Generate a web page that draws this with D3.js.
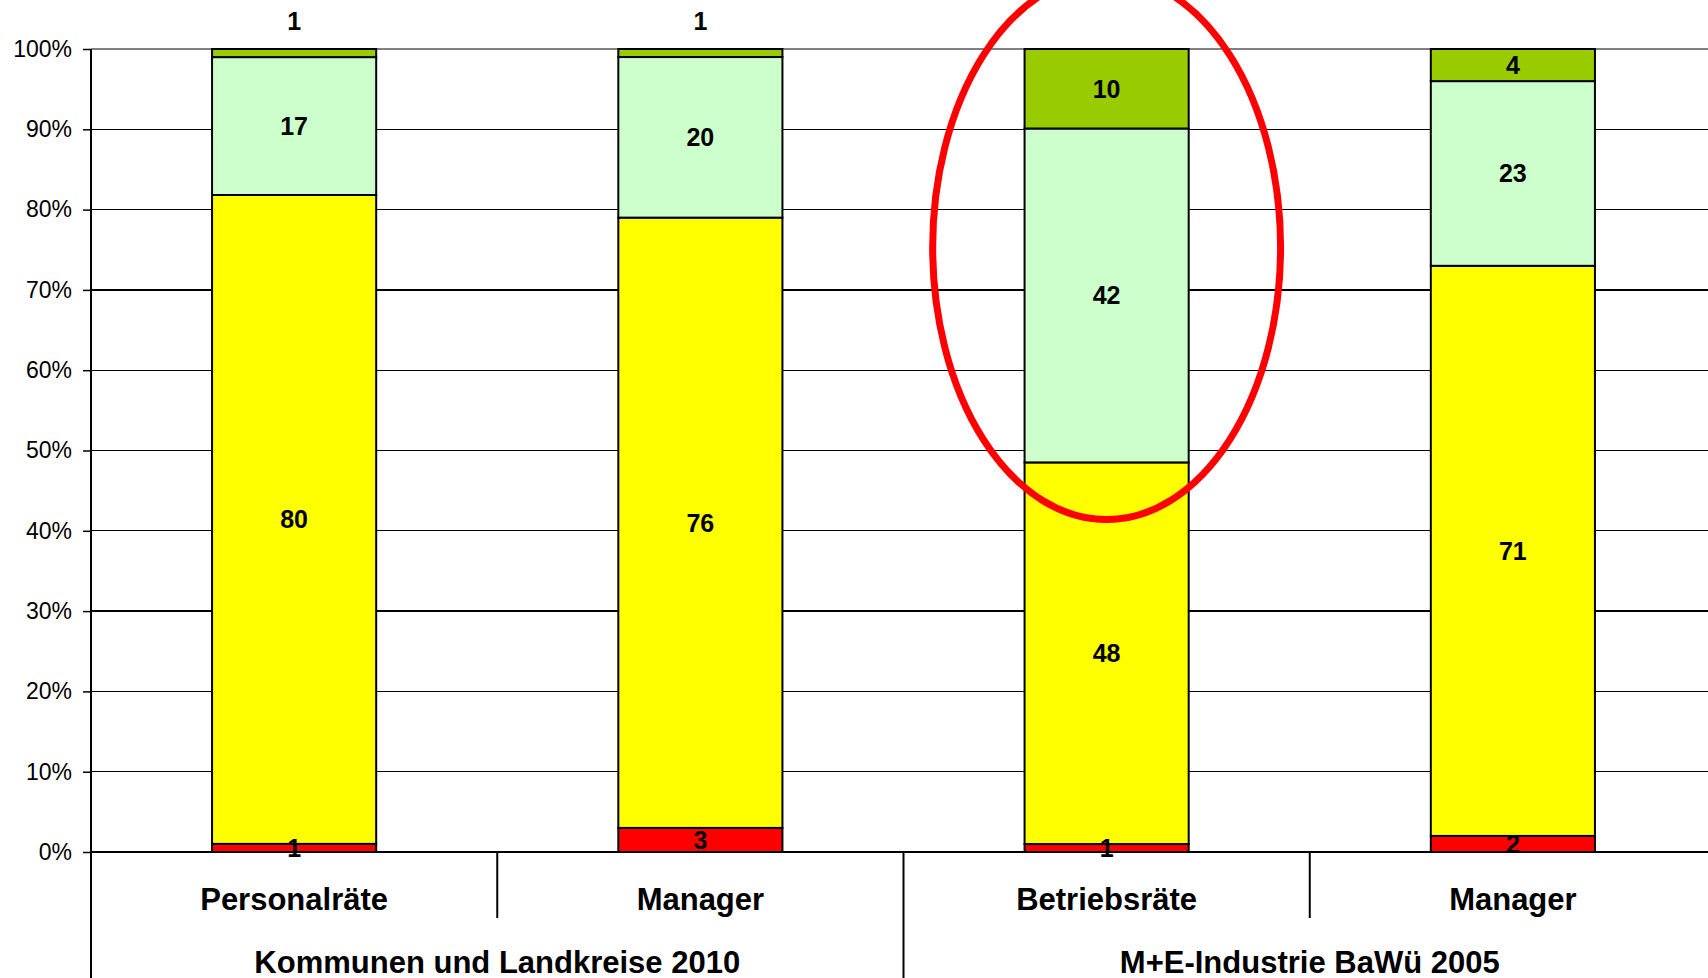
<!DOCTYPE html>
<html>
<head>
<meta charset="utf-8">
<script src="https://cdn.jsdelivr.net/npm/d3@7"></script>
<style>
  html, body { margin: 0; padding: 0; background: #fff; }
  svg { display: block; font-family: "Liberation Sans", Arial, sans-serif; }
</style>
</head>
<body>
<svg id="chart" width="1708" height="978"></svg>
<script>
// Categories and their groups
const categories = ["Personalräte", "Manager (Kommunen)", "Betriebsräte", "Manager (M+E)"];
const categoryLabels = ["Personalräte", "Manager", "Betriebsräte", "Manager"];
const groups = ["Kommunen und Landkreise 2010", "M+E-Industrie BaWü 2005"];
const groupOf = [0, 0, 1, 1];

// Series values (percent, as labelled), bottom to top
const seriesKeys = ["s1", "s2", "s3", "s4"];
const s1 = [1, 3, 1, 2];
const s2 = [80, 76, 48, 71];
const s3 = [17, 20, 42, 23];
const s4 = [1, 1, 10, 4];
const seriesColors = ["#FF0000", "#FFFF00", "#CCFFCC", "#99CC00"];

const yTicks = [0, 0.1, 0.2, 0.3, 0.4, 0.5, 0.6, 0.7, 0.8, 0.9, 1];

// Highlighted category (ellipse)
const highlight = "Betriebsräte";

const rows = categories.map((c, i) => ({ cat: c, s1: s1[i], s2: s2[i], s3: s3[i], s4: s4[i] }));
const stacked = d3.stack().keys(seriesKeys).offset(d3.stackOffsetExpand)(rows);

const svg = d3.select("#chart");
const plotLeft = 91, plotTop = 49, plotBottom = 852, plotRight = 1716;

const x = d3.scaleBand().domain(categories).range([plotLeft, plotRight])
  .paddingInner(0.596).paddingOuter(0.298);
const step = x.step();
const y = d3.scaleLinear().domain([0, 1]).range([plotBottom, plotTop]);

// Gridlines
svg.append("g").selectAll("line").data(yTicks).join("line")
  .attr("x1", plotLeft).attr("x2", plotRight)
  .attr("y1", d => y(d)).attr("y2", d => y(d))
  .attr("stroke", d => d === 1 ? "#808080" : "#000")
  .attr("stroke-width", d => d === 0 ? 2 : 1.3)
  .attr("shape-rendering", "crispEdges");

// Y axis
const yAxis = d3.axisLeft(y).tickValues(yTicks).tickFormat(d3.format(".0%")).tickSize(8).tickPadding(11);
const yg = svg.append("g").attr("transform", `translate(${plotLeft},0)`).call(yAxis);
yg.select(".domain").remove();
yg.selectAll(".tick line").attr("stroke", "#000").attr("stroke-width", 1.5);
yg.selectAll(".tick text").attr("font-size", 23).attr("fill", "#000")
  .attr("font-family", "'Liberation Sans', Arial, sans-serif");

// Bars
const layers = svg.append("g").selectAll("g").data(stacked).join("g")
  .attr("fill", (d, i) => seriesColors[i]);
layers.selectAll("rect").data(d => d.map(v => ({ v, key: d.key }))).join("rect")
  .attr("x", d => x(d.v.data.cat))
  .attr("width", x.bandwidth())
  .attr("y", d => y(d.v[1]))
  .attr("height", d => y(d.v[0]) - y(d.v[1]))
  .attr("stroke", "#000").attr("stroke-width", 2);

// Value labels
const labelData = [];
stacked.forEach((layer, li) => {
  layer.forEach(v => {
    const val = v.data[layer.key];
    const isTopSmall = li === stacked.length - 1 && (v[1] - v[0]) < 0.02;
    labelData.push({
      text: val,
      cx: x(v.data.cat) + x.bandwidth() / 2,
      cy: isTopSmall ? y(1) - 28 : (y(v[0]) + y(v[1])) / 2
    });
  });
});
svg.append("g").selectAll("text").data(labelData).join("text")
  .attr("x", d => d.cx).attr("y", d => d.cy)
  .attr("text-anchor", "middle").attr("dominant-baseline", "central")
  .attr("font-size", 25).attr("font-weight", "bold").attr("fill", "#000")
  .text(d => d.text);

// Y axis line (runs down through the category label table)
svg.append("line").attr("x1", plotLeft).attr("x2", plotLeft)
  .attr("y1", plotTop).attr("y2", 978)
  .attr("stroke", "#000").attr("stroke-width", 2);

// Category dividers and group dividers below the axis
const catRowBottom = 918;
categories.forEach((c, i) => {
  if (i === 0) return;
  const xb = x(c) - step * x.paddingInner() / 2;
  const groupBoundary = groupOf[i] !== groupOf[i - 1];
  svg.append("line").attr("x1", xb).attr("x2", xb)
    .attr("y1", plotBottom).attr("y2", groupBoundary ? 978 : catRowBottom)
    .attr("stroke", "#000").attr("stroke-width", 2);
});

// Category labels
svg.append("g").selectAll("text").data(categories).join("text")
  .attr("x", d => x(d) + x.bandwidth() / 2).attr("y", 899)
  .attr("text-anchor", "middle").attr("dominant-baseline", "central")
  .attr("font-size", 31).attr("font-weight", "bold").attr("fill", "#000")
  .text((d, i) => categoryLabels[i]);

// Group labels
svg.append("g").selectAll("text").data(groups).join("text")
  .attr("x", (g, gi) => {
    const members = categories.filter((c, i) => groupOf[i] === gi);
    return (x(members[0]) + x(members[members.length - 1]) + x.bandwidth()) / 2;
  })
  .attr("y", 962)
  .attr("text-anchor", "middle").attr("dominant-baseline", "central")
  .attr("font-size", 31).attr("font-weight", "bold").attr("fill", "#000")
  .text(d => d);

// Highlight ellipse around the selected bar
const hcx = x(highlight) + x.bandwidth() / 2;
svg.append("ellipse")
  .attr("cx", hcx)
  .attr("cy", y(0.753))
  .attr("rx", x.bandwidth() * 1.06)
  .attr("ry", y(0.414) - y(0.753))
  .attr("fill", "none").attr("stroke", "#FF0000").attr("stroke-width", 7);
</script>
</body>
</html>
